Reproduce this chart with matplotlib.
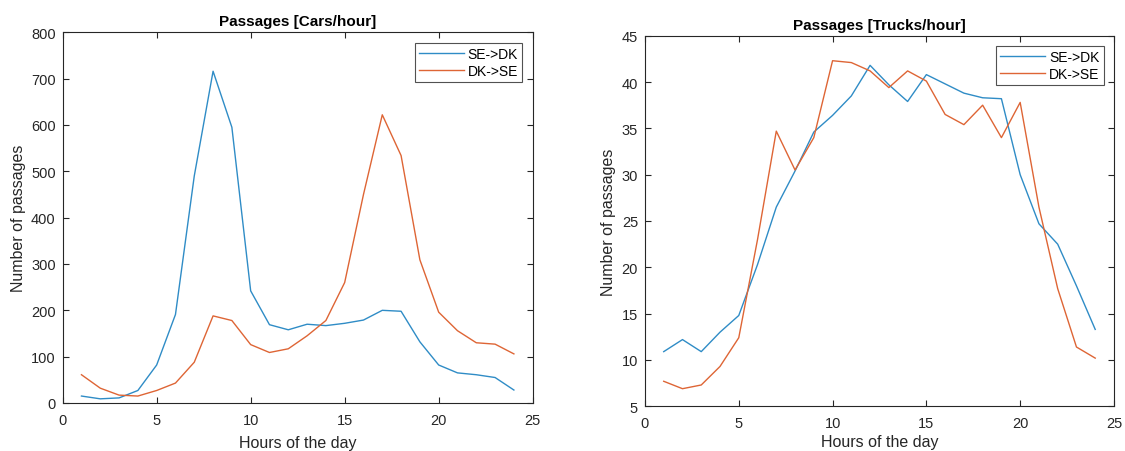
import matplotlib
matplotlib.use("Agg")
import matplotlib.pyplot as plt

plt.rcParams['font.family'] = ['Liberation Sans', 'DejaVu Sans']

hours = list(range(1, 25))

cars_se_dk = [15, 9, 11, 27, 82, 191, 490, 716, 595, 242, 169, 158, 170, 167,
              172, 179, 200, 198, 132, 82, 65, 61, 55, 28]
cars_dk_se = [61, 32, 17, 15, 27, 43, 88, 188, 178, 126, 109, 117, 145, 178,
              260, 450, 622, 534, 309, 196, 156, 130, 127, 106]

trucks_se_dk = [10.9, 12.2, 10.9, 13.0, 14.8, 20.3, 26.5, 30.4, 34.6, 36.4, 38.5, 41.8,
                39.7, 37.9, 40.8, 39.8, 38.8, 38.3, 38.2, 30.0, 24.7, 22.5, 18.0, 13.3]
trucks_dk_se = [7.7, 6.9, 7.3, 9.3, 12.4, 23.0, 34.7, 30.5, 34.0, 42.3, 42.1, 41.2,
                39.4, 41.2, 40.1, 36.5, 35.4, 37.5, 34.0, 37.8, 26.5, 17.7, 11.4, 10.2]

series_labels = ['SE->DK', 'DK->SE']
x_ticks = [0, 5, 10, 15, 20, 25]
cars_ticks = list(range(0, 801, 100))
trucks_ticks = list(range(5, 46, 5))

BLUE = '#2f8cc6'
ORANGE = '#de6535'
AXCOL = '#262626'

fig = plt.figure(figsize=(11.25, 4.52), dpi=100)
ax1 = fig.add_axes([0.0557, 0.1062, 0.4178, 0.8201])
ax2 = fig.add_axes([0.5733, 0.0989, 0.4169, 0.8199])


def style(ax, title, yticks, ylim, xpad):
    ax.set_xlim(0, 25)
    ax.set_ylim(*ylim)
    ax.set_xticks(x_ticks)
    ax.set_yticks(yticks)
    ax.tick_params(axis='both', direction='in', length=4, width=0.8, colors=AXCOL,
                   labelsize=10.5, top=True, right=True)
    ax.tick_params(axis='x', pad=7)
    ax.tick_params(axis='y', pad=5)
    for sp in ax.spines.values():
        sp.set_color(AXCOL)
        sp.set_linewidth(0.8)
    ax.set_title(title, fontsize=11, fontweight='bold', pad=5, color='black')
    ax.set_xlabel('Hours of the day', fontsize=11.5, color=AXCOL, labelpad=xpad)
    ax.set_ylabel('Number of passages', fontsize=11.5, color=AXCOL, labelpad=4)
    leg = ax.legend(loc='upper right', fontsize=10, frameon=True, fancybox=False,
                    edgecolor=AXCOL, borderpad=0.3, handlelength=3.2,
                    handletextpad=0.3, labelspacing=0.2, borderaxespad=0.75)
    leg.get_frame().set_linewidth(0.8)
    for t in leg.get_texts():
        t.set_color('black')


ax1.plot(hours, cars_se_dk, color=BLUE, lw=1.0, label=series_labels[0])
ax1.plot(hours, cars_dk_se, color=ORANGE, lw=1.0, label=series_labels[1])
style(ax1, 'Passages [Cars/hour]', cars_ticks, (0, 800), 6)

ax2.plot(hours, trucks_se_dk, color=BLUE, lw=1.0, label=series_labels[0])
ax2.plot(hours, trucks_dk_se, color=ORANGE, lw=1.0, label=series_labels[1])
style(ax2, 'Passages [Trucks/hour]', trucks_ticks, (5, 45), 3)

fig.savefig('out.png', dpi=100, facecolor='white')
